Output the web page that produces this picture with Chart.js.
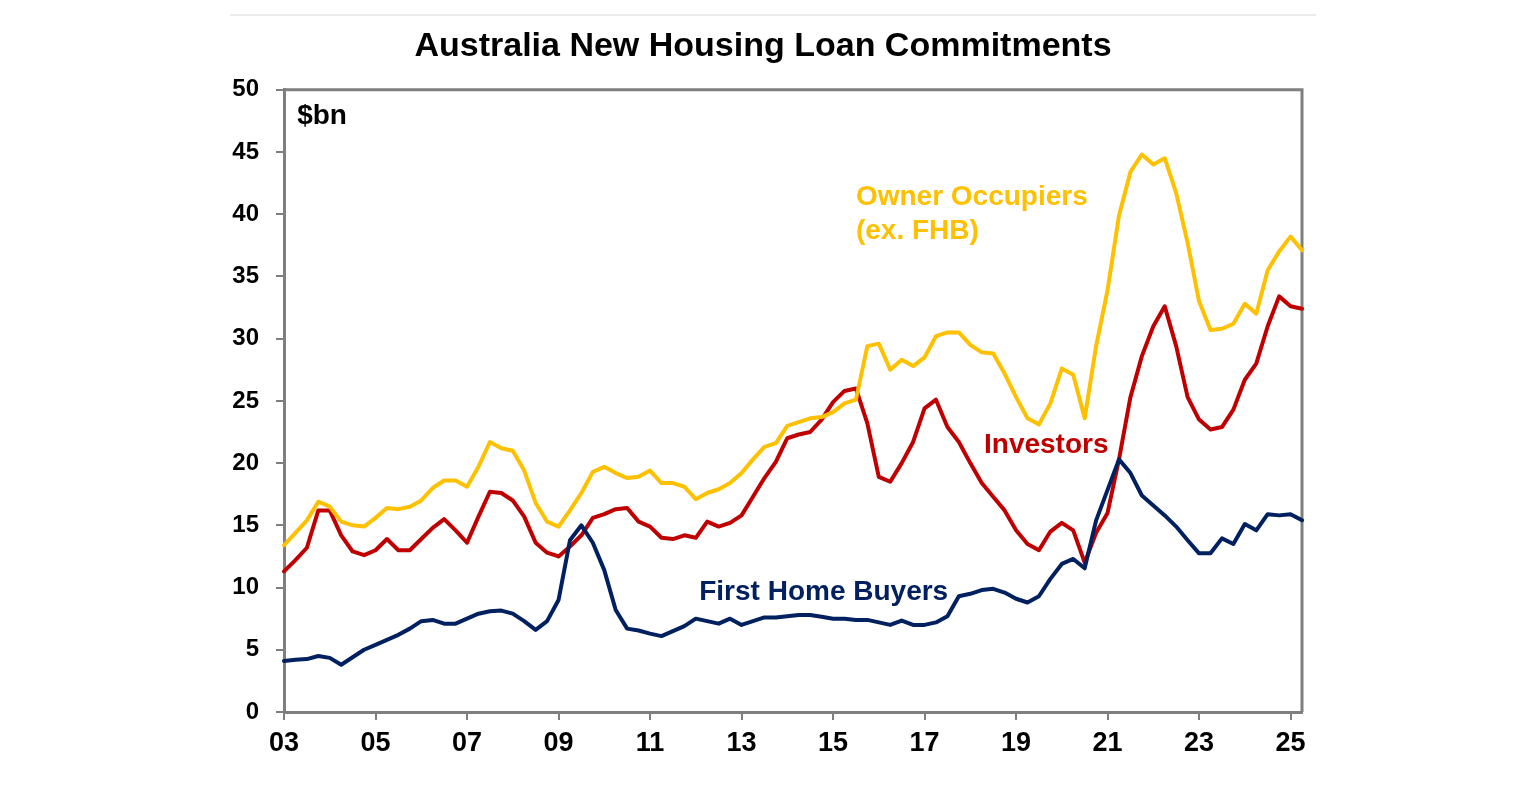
<!DOCTYPE html>
<html lang="en">
  <head>
    <meta charset="UTF-8">
    <title>Australia New Housing Loan Commitments</title>
    <script src="https://cdn.jsdelivr.net/npm/chart.js"></script>
    <style>
      html, body { margin: 0; padding: 0; background: #fff; }
      canvas { display: block; }
    </style>
  </head>
  <body>
    <canvas id="loanChart" width="1536" height="787"></canvas>
    <script>
      // quarterly, Q1 2003 .. Q2 2025
      const quarters = [
        'Q1 03','Q2 03','Q3 03','Q4 03','Q1 04','Q2 04','Q3 04','Q4 04',
        'Q1 05','Q2 05','Q3 05','Q4 05','Q1 06','Q2 06','Q3 06','Q4 06',
        'Q1 07','Q2 07','Q3 07','Q4 07','Q1 08','Q2 08','Q3 08','Q4 08',
        'Q1 09','Q2 09','Q3 09','Q4 09','Q1 10','Q2 10','Q3 10','Q4 10',
        'Q1 11','Q2 11','Q3 11','Q4 11','Q1 12','Q2 12','Q3 12','Q4 12',
        'Q1 13','Q2 13','Q3 13','Q4 13','Q1 14','Q2 14','Q3 14','Q4 14',
        'Q1 15','Q2 15','Q3 15','Q4 15','Q1 16','Q2 16','Q3 16','Q4 16',
        'Q1 17','Q2 17','Q3 17','Q4 17','Q1 18','Q2 18','Q3 18','Q4 18',
        'Q1 19','Q2 19','Q3 19','Q4 19','Q1 20','Q2 20','Q3 20','Q4 20',
        'Q1 21','Q2 21','Q3 21','Q4 21','Q1 22','Q2 22','Q3 22','Q4 22',
        'Q1 23','Q2 23','Q3 23','Q4 23','Q1 24','Q2 24','Q3 24','Q4 24',
        'Q1 25','Q2 25'
      ];
      const tickYears = ['03', '05', '07', '09', '11', '13', '15', '17', '19', '21', '23', '25'];

      // $bn
      const ownerOccupiers = [
        13.4, 14.4, 15.4, 16.9, 16.5, 15.3, 15.0, 14.9, 15.6, 16.4, 16.3, 16.5,
        17.0, 18.0, 18.6, 18.6, 18.1, 19.7, 21.7, 21.2, 21.0, 19.4, 16.8, 15.3,
        14.9, 16.2, 17.6, 19.3, 19.7, 19.2, 18.8, 18.9, 19.4, 18.4, 18.4, 18.1,
        17.1, 17.6, 17.9, 18.4, 19.2, 20.3, 21.3, 21.6, 23.0, 23.3, 23.6, 23.7,
        24.1, 24.8, 25.1, 29.4, 29.6, 27.5, 28.3, 27.8, 28.5, 30.2, 30.5, 30.5,
        29.5, 28.9, 28.8, 27.2, 25.3, 23.6, 23.1, 24.8, 27.6, 27.1, 23.6, 29.4,
        33.9, 39.9, 43.4, 44.8, 44.0, 44.5, 41.7, 37.7, 33.0, 30.7, 30.8, 31.2,
        32.8, 32.0, 35.5, 37.0, 38.2, 37.1
      ];
      const investors = [
        11.3, 12.2, 13.2, 16.2, 16.2, 14.2, 12.9, 12.6, 13.0, 13.9, 13.0, 13.0,
        13.9, 14.8, 15.5, 14.6, 13.6, 15.7, 17.7, 17.6, 17.0, 15.7, 13.6, 12.8,
        12.5, 13.3, 14.2, 15.6, 15.9, 16.3, 16.4, 15.3, 14.9, 14.0, 13.9, 14.2,
        14.0, 15.3, 14.9, 15.2, 15.8, 17.3, 18.8, 20.1, 22.0, 22.3, 22.5, 23.5,
        24.9, 25.8, 26.0, 23.2, 18.9, 18.5, 20.0, 21.7, 24.4, 25.1, 22.9, 21.7,
        20.0, 18.4, 17.3, 16.2, 14.6, 13.5, 13.0, 14.5, 15.2, 14.6, 12.0, 14.4,
        16.0, 20.3, 25.3, 28.6, 31.0, 32.6, 29.4, 25.3, 23.5, 22.7, 22.9, 24.3,
        26.7, 28.0, 31.0, 33.4, 32.6, 32.4
      ];
      const firstHomeBuyers = [
        4.1, 4.2, 4.25, 4.5, 4.35, 3.8, 4.4, 5.0, 5.4, 5.8, 6.2, 6.7,
        7.3, 7.4, 7.1, 7.1, 7.5, 7.9, 8.1, 8.15, 7.9, 7.3, 6.6, 7.3,
        9.0, 13.8, 15.0, 13.6, 11.4, 8.2, 6.7, 6.55, 6.3, 6.1, 6.5, 6.9,
        7.5, 7.3, 7.1, 7.5, 7.0, 7.3, 7.6, 7.6, 7.7, 7.8, 7.8, 7.65,
        7.5, 7.5, 7.4, 7.4, 7.2, 7.0, 7.35, 7.0, 7.0, 7.2, 7.7, 9.3,
        9.5, 9.8, 9.9, 9.6, 9.1, 8.8, 9.3, 10.7, 11.9, 12.3, 11.55, 15.4,
        17.85, 20.3, 19.2, 17.4, 16.6, 15.8, 14.9, 13.8, 12.75, 12.75, 13.95, 13.5,
        15.1, 14.6, 15.9, 15.8, 15.9, 15.4
      ];

      const ooColor = '#FFC000';
      const invColor = '#C00000';
      const fhbColor = '#002060';
      const axisColor = '#7f7f7f';
      const fontFamily = "'Liberation Sans', Arial, sans-serif";

      // in-chart labels, placed by category index / $bn value
      const notes = [
        { text: '$bn', x: 1.15, y: 47.9, color: '#000' },
        { text: 'Owner Occupiers', x: 50.0, y: 41.4, color: ooColor },
        { text: '(ex. FHB)', x: 50.0, y: 38.6, color: ooColor },
        { text: 'Investors', x: 61.2, y: 21.4, color: invColor },
        { text: 'First Home Buyers', x: 36.3, y: 9.6, color: fhbColor }
      ];

      const frameAndNotes = {
        id: 'frameAndNotes',
        beforeDatasetsDraw(chart) {
          const { ctx, chartArea } = chart;
          ctx.save();
          ctx.strokeStyle = axisColor;
          ctx.lineWidth = 3;
          ctx.beginPath();
          ctx.moveTo(chartArea.left, chartArea.top);
          ctx.lineTo(chartArea.right, chartArea.top);
          ctx.lineTo(chartArea.right, chartArea.bottom);
          ctx.stroke();
          // faint frame line of the original picture
          ctx.strokeStyle = '#ececec';
          ctx.lineWidth = 2;
          ctx.beginPath();
          ctx.moveTo(230, 15);
          ctx.lineTo(1316, 15);
          ctx.stroke();
          ctx.restore();
        },
        afterDatasetsDraw(chart) {
          const { ctx, scales } = chart;
          ctx.save();
          ctx.font = 'bold 28px ' + fontFamily;
          ctx.textAlign = 'left';
          ctx.textBaseline = 'middle';
          notes.forEach(n => {
            ctx.fillStyle = n.color;
            ctx.fillText(n.text, scales.x.getPixelForValue(n.x), scales.y.getPixelForValue(n.y));
          });
          ctx.restore();
        }
      };

      const lineStyle = { borderWidth: 4, pointRadius: 0, tension: 0, borderJoinStyle: 'round', borderCapStyle: 'round', fill: false };

      new Chart(document.getElementById('loanChart'), {
        type: 'line',
        data: {
          labels: quarters,
          datasets: [
            { label: 'First Home Buyers', data: firstHomeBuyers, borderColor: fhbColor, ...lineStyle },
            { label: 'Owner Occupiers (ex. FHB)', data: ownerOccupiers, borderColor: ooColor, ...lineStyle },
            { label: 'Investors', data: investors, borderColor: invColor, ...lineStyle }
          ]
        },
        options: {
          responsive: false,
          animation: false,
          layout: { padding: { left: 224, right: 234, top: 0, bottom: 25 } },
          plugins: {
            legend: { display: false },
            tooltip: { enabled: false },
            title: {
              display: true,
              text: 'Australia New Housing Loan Commitments',
              color: '#000',
              font: { family: fontFamily, size: 34, weight: 'bold' },
              padding: { top: 26, bottom: 23 }
            }
          },
          scales: {
            x: {
              type: 'category',
              offset: false,
              afterBuildTicks(axis) {
                axis.ticks = axis.ticks.filter(t => tickYears.some(y => quarters[t.value] === 'Q1 ' + y));
              },
              afterFit(axis) { axis.height = 50; },
              grid: { display: true, drawOnChartArea: false, drawTicks: true, tickLength: 8, color: axisColor, lineWidth: 2 },
              border: { display: true, color: axisColor, width: 3 },
              ticks: {
                autoSkip: false,
                maxRotation: 0,
                padding: 7,
                color: '#000',
                font: { family: fontFamily, size: 27, weight: 'bold' },
                callback(value) { return quarters[value].slice(3); }
              }
            },
            y: {
              min: 0,
              max: 50,
              afterFit(axis) { axis.width = 60; },
              grid: { display: true, drawOnChartArea: false, drawTicks: true, tickLength: 8, color: axisColor, lineWidth: 2 },
              border: { display: true, color: axisColor, width: 3 },
              ticks: {
                stepSize: 5,
                padding: 17,
                color: '#000',
                font: { family: fontFamily, size: 24, weight: 'bold' }
              }
            }
          }
        },
        plugins: [frameAndNotes]
      });
    </script>
  </body>
</html>
